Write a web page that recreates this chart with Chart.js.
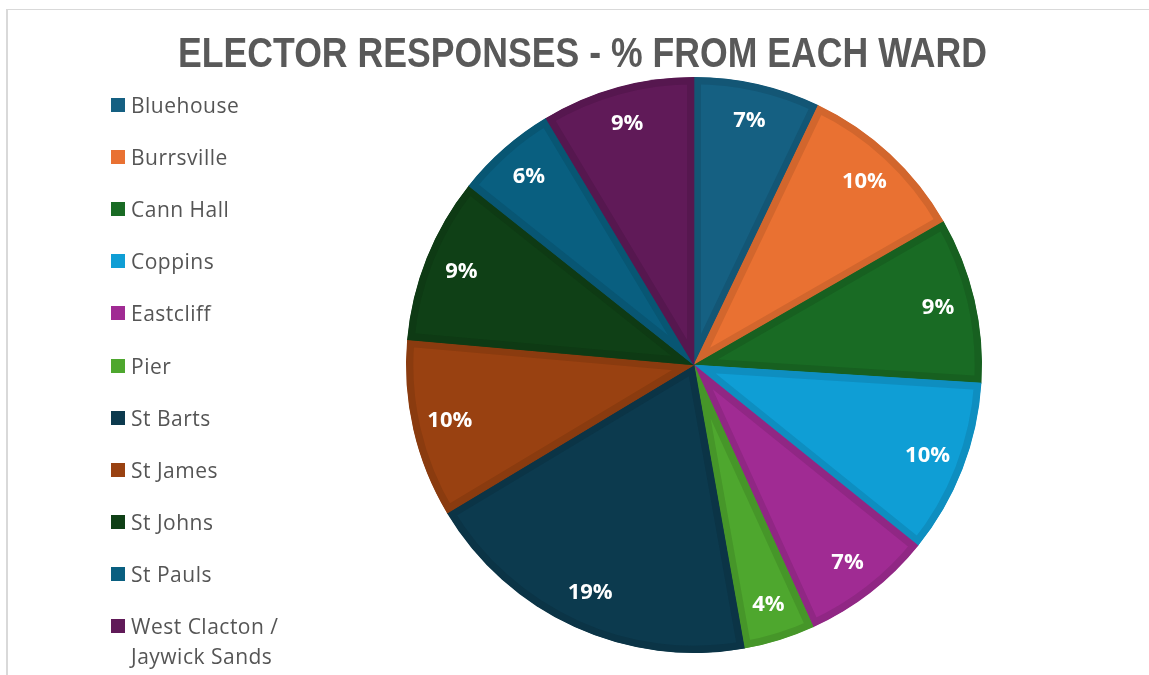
<!DOCTYPE html>
<html>
<head>
<meta charset="utf-8">
<title>Elector responses</title>
<script src="https://cdn.jsdelivr.net/npm/chart.js@4.4.1/dist/chart.umd.min.js"></script>
<style>
    html, body { margin: 0; padding: 0; background: #fff; overflow: hidden; }
    body { width: 1149px; height: 675px; position: relative; }
    #frame {
        position: absolute; left: 6px; top: 9px; right: 0; bottom: 0;
        border-top: 1px solid #d9d9d9; border-left: 2px solid #d9d9d9;
    }
    #wrap { position: absolute; left: 0; top: 0; width: 1149px; height: 675px; }
    #legend {
        position: absolute; left: 111px; top: 0; margin: 0; padding: 0; list-style: none;
        font-family: "Open Sans", sans-serif; font-size: 21px; letter-spacing: 0.5px; color: #555;
    }
    #legend li { position: absolute; left: 0; display: flex; align-items: flex-start; line-height: 30px; }
    #legend .box { width: 14px; height: 14px; margin-top: 8px; margin-right: 6px; flex: none; }
    #legend .txt { width: 175px; }
</style>
</head>
<body>
<div id="frame"></div>
<div id="wrap"><canvas id="wardChart"></canvas></div>
<ul id="legend"></ul>
<script>
// wards and share of elector responses (%)
const wards = ["Bluehouse", "Burrsville", "Cann Hall", "Coppins", "Eastcliff", "Pier",
    "St Barts", "St James", "St Johns", "St Pauls", "West Clacton / Jaywick Sands"];
const shares = [7.1, 9.6, 9.3, 9.8, 7.4, 4.0, 19.2, 10.0, 9.3, 5.7, 8.6];
const chartTitle = "ELECTOR RESPONSES - % FROM EACH WARD";

const colors = ["#156082", "#E97132", "#196B24", "#0F9ED5", "#A02B93", "#4EA72E",
    "#0C3A4E", "#994111", "#0F4016", "#095F80", "#601A58"];

// slightly darker edge band of same hue
const darken = (hex, f) => {
    const n = parseInt(hex.slice(1), 16);
    const r = Math.round(((n >> 16) & 255) * f);
    const g = Math.round(((n >> 8) & 255) * f);
    const b = Math.round((n & 255) * f);
    return `rgb(${r},${g},${b})`;
};

// title in a narrow bold face (squeezed to the width of the original)
const narrowTitle = {
    id: "narrowTitle",
    afterDraw(chart) {
        const ctx = chart.ctx;
        ctx.save();
        ctx.font = "bold 43px 'Liberation Sans', Arial, sans-serif";
        ctx.fillStyle = "#595959";
        ctx.textAlign = "left";
        ctx.textBaseline = "alphabetic";
        ctx.fillText(chartTitle, 178, 67, 809);
        ctx.restore();
    }
};

// percentage labels inside each slice
const sliceLabels = {
    id: "sliceLabels",
    afterDatasetsDraw(chart) {
        const ctx = chart.ctx;
        const total = shares.reduce((a, b) => a + b, 0);
        ctx.save();
        ctx.font = "bold 22px 'Open Sans'";
        ctx.fillStyle = "#ffffff";
        ctx.textAlign = "center";
        ctx.textBaseline = "middle";
        chart.getDatasetMeta(0).data.forEach((arc, i) => {
            const p = arc.getProps(["x", "y", "startAngle", "endAngle", "outerRadius"], true);
            const mid = (p.startAngle + p.endAngle) / 2;
            const r = p.outerRadius * 0.87;
            ctx.fillText(Math.round(shares[i] / total * 100) + "%", p.x + Math.cos(mid) * r, p.y + Math.sin(mid) * r);
        });
        ctx.restore();
    }
};

const chart = new Chart(document.getElementById("wardChart").getContext("2d"), {
    type: "pie",
    data: {
        labels: wards,
        datasets: [{
            data: shares,
            backgroundColor: colors,
            borderColor: colors.map(c => darken(c, 0.9)),
            borderWidth: 7,
            borderAlign: "inner",
            hoverOffset: 0
        }]
    },
    options: {
        responsive: true,
        maintainAspectRatio: false,
        animation: false,
        // pie centred at (694, 365), radius 288
        layout: { padding: { left: 406, right: 167, top: 77, bottom: 22 } },
        plugins: {
            legend: { display: false },
            tooltip: { enabled: false },
            title: { display: false }
        }
    },
    plugins: [sliceLabels, narrowTitle]
});

// html legend built from the chart's own legend items
const legendEl = document.getElementById("legend");
chart.options.plugins.legend.labels.generateLabels(chart).forEach((item, i) => {
    const li = document.createElement("li");
    li.style.top = (105 + i * 52.1 - 15) + "px";
    li.innerHTML = `<span class="box" style="background:${item.fillStyle}"></span><span class="txt">${item.text}</span>`;
    legendEl.appendChild(li);
});
</script>
</body>
</html>
